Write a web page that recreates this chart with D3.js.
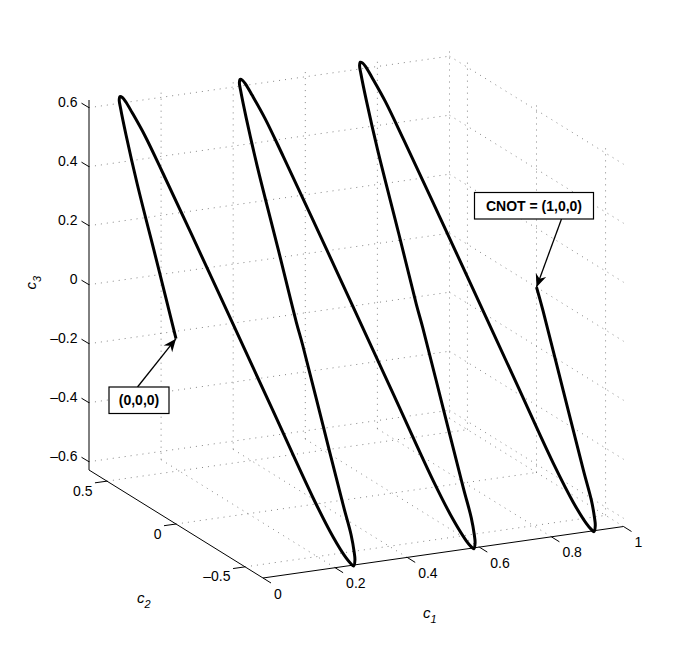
<!DOCTYPE html>
<html>
<head>
<meta charset="utf-8">
<script src="https://cdn.jsdelivr.net/npm/d3@7"></script>
<style>
    body { margin: 0; background: #fff; }
    text { font-family: "Liberation Sans", Arial, sans-serif; fill: #000; }
</style>
</head>
<body>
<svg id="chart" width="688" height="650"></svg>
<script>
const width = 688,
    height = 650

// Trajectory, in (c1, c2, c3)
const c1Values = [
    0, .0214, .0457, .0631, .0744, .0786, .0841, .0892, .0939, .1005, .1123, .1239, .1408,
    .1635, .1869, .2093, .2247, .2389, .2464, .2511, .2602, .2658, .2741, .2818, .3046, .3280,
    .3333, .3547, .3790, .3964, .4077, .4119, .4174, .4225, .4272, .4338, .4456, .4572, .4741,
    .4968, .5202, .5426, .5580, .5722, .5797, .5844, .5935, .5991, .6074, .6151, .6379, .6613,
    .6667, .6881, .7124, .7298, .7411, .7453, .7508, .7559, .7606, .7672, .7790, .7906, .8075,
    .8302, .8536, .8760, .8914, .9056, .9131, .9178, .9269, .9325, .9408, .9485, .9713, .9947, 1
]
const c2Values = [
    0, .1839, .4001, .5265, .5959, .6163, .6247, .6214, .6103, .5805, .5172, .4171, .2547,
    .0244, -.2151, -.4466, -.5512, -.6082, -.625, -.6309, -.6164, -.5961, -.5526, -.4748, -.2704, -.0609,
    0, .1839, .4001, .5265, .5959, .6163, .6247, .6214, .6103, .5805, .5172, .4171, .2547,
    .0244, -.2151, -.4466, -.5512, -.6082, -.625, -.6309, -.6164, -.5961, -.5526, -.4748, -.2704, -.0609,
    0, .1839, .4001, .5265, .5959, .6163, .6247, .6214, .6103, .5805, .5172, .4171, .2547,
    .0244, -.2151, -.4466, -.5512, -.6082, -.625, -.6309, -.6164, -.5961, -.5526, -.4748, -.2704, -.0609, 0
]
const c3Values = [
    0, .1839, .4001, .5265, .5959, .6163, .6247, .6214, .6103, .5805, .5172, .4171, .2547,
    .0244, -.2151, -.4466, -.5512, -.6082, -.625, -.6309, -.6164, -.5961, -.5526, -.4748, -.2704, -.0609,
    0, .1839, .4001, .5265, .5959, .6163, .6247, .6214, .6103, .5805, .5172, .4171, .2547,
    .0244, -.2151, -.4466, -.5512, -.6082, -.625, -.6309, -.6164, -.5961, -.5526, -.4748, -.2704, -.0609,
    0, .1839, .4001, .5265, .5959, .6163, .6247, .6214, .6103, .5805, .5172, .4171, .2547,
    .0244, -.2151, -.4466, -.5512, -.6082, -.625, -.6309, -.6164, -.5961, -.5526, -.4748, -.2704, -.0609, 0
]

const c1Ticks = [0, .2, .4, .6, .8, 1]
const c2Ticks = [.5, 0, -.5]
const c3Ticks = [.6, .4, .2, 0, -.2, -.4, -.6]
const c1Labels = ["0", "0.2", "0.4", "0.6", "0.8", "1"]
const c2Labels = ["0.5", "0", "–0.5"]
const c3Labels = ["0.6", "0.4", "0.2", "0", "–0.2", "–0.4", "–0.6"]

const c1Min = 0, c1Max = 1
const c2Min = -.63, c2Max = .63
const c3Min = -.628, c3Max = .626

// Each axis is a screen vector, the projection just adds them up
const c1X = d3.scaleLinear().domain([c1Min, c1Max]).range([263, 623.5])
const c1Y = d3.scaleLinear().domain([c1Min, c1Max]).range([578, 526.5])
const c2X = d3.scaleLinear().domain([c2Min, c2Max]).range([0, -174])
const c2Y = d3.scaleLinear().domain([c2Min, c2Max]).range([0, -108])
const c3Y = d3.scaleLinear().domain([c3Min, c3Max]).range([0, -370])

const project = (c1, c2, c3) => [c1X(c1) + c2X(c2), c1Y(c1) + c2Y(c2) + c3Y(c3)]

const svg = d3.select("#chart")

const segment = (g, a, b) => {
    const p = project(...a), q = project(...b)
    return g.append("line")
        .attr("x1", p[0]).attr("y1", p[1])
        .attr("x2", q[0]).attr("y2", q[1])
}

// Grid
const grid = svg.append("g")
    .attr("stroke", "#666")
    .attr("stroke-width", 0.8)
    .attr("stroke-dasharray", "1 5")

c3Ticks.forEach(z => {
    segment(grid, [c1Min, c2Max, z], [c1Max, c2Max, z])
    segment(grid, [c1Max, c2Max, z], [c1Max, c2Min, z])
})
c1Ticks.slice(1).forEach(x => {
    segment(grid, [x, c2Max, c3Min], [x, c2Max, c3Max])
    segment(grid, [x, c2Min, c3Min], [x, c2Max, c3Min])
})
c2Ticks.forEach(y => {
    segment(grid, [c1Max, y, c3Min], [c1Max, y, c3Max])
    segment(grid, [c1Min, y, c3Min], [c1Max, y, c3Min])
})

// Axis lines
const axes = svg.append("g")
    .attr("stroke", "#000")
    .attr("stroke-width", 1)

segment(axes, [c1Min, c2Max, c3Min], [c1Min, c2Max, c3Max])
segment(axes, [c1Min, c2Max, c3Min], [c1Min, c2Min, c3Min])
segment(axes, [c1Min, c2Min, c3Min], [c1Max, c2Min, c3Min])

// Tick marks and labels
const labels = svg.append("g").attr("font-size", 14)

const addTick = (p, dx, dy) => {
    axes.append("line")
        .attr("x1", p[0]).attr("y1", p[1])
        .attr("x2", p[0] + dx).attr("y2", p[1] + dy)
}

c3Ticks.forEach((z, i) => {
    const p = project(c1Min, c2Max, z)
    addTick(p, -7.5, -4.5)
    labels.append("text")
        .attr("x", p[0] - 11.5)
        .attr("y", p[1] - 6)
        .attr("dy", ".36em")
        .attr("text-anchor", "end")
        .text(c3Labels[i])
})
c2Ticks.forEach((y, i) => {
    const p = project(c1Min, y, c3Min)
    addTick(p, -12, 1.7)
    labels.append("text")
        .attr("x", p[0] - 14.5)
        .attr("y", p[1] + 9.5)
        .attr("dy", ".36em")
        .attr("text-anchor", "end")
        .text(c2Labels[i])
})
c1Ticks.forEach((x, i) => {
    const p = project(x, c2Min, c3Min)
    addTick(p, 8, 5)
    labels.append("text")
        .attr("x", p[0] + 11)
        .attr("y", p[1] + 15.5)
        .attr("dy", ".36em")
        .text(c1Labels[i])
})

// Axis titles
const axisTitle = (x, y, angle, sub) => {
    const t = svg.append("text")
        .attr("transform", `translate(${x},${y}) rotate(${angle})`)
        .attr("font-style", "italic")
        .attr("font-size", 15)
    t.append("tspan").text("c")
    t.append("tspan").attr("dy", 5).attr("font-size", 11).text(sub)
}
axisTitle(423, 618, 0, "1")
axisTitle(137, 603, 0, "2")
axisTitle(36, 289.5, -90, "3")

// The trajectory
const line = d3.line().curve(d3.curveCatmullRom.alpha(0.5))

svg.append("path")
    .attr("d", line(c1Values.map((d, i) => project(d, c2Values[i], c3Values[i]))))
    .attr("fill", "none")
    .attr("stroke", "#000")
    .attr("stroke-width", 3)
    .attr("stroke-linejoin", "round")

// Annotations
svg.append("defs").append("marker")
    .attr("id", "arrowhead")
    .attr("markerUnits", "userSpaceOnUse")
    .attr("viewBox", "-14 -7 15 14")
    .attr("refX", 0)
    .attr("refY", 0)
    .attr("markerWidth", 15)
    .attr("markerHeight", 14)
    .attr("orient", "auto")
    .append("path")
    .attr("d", "M0,0 L-13,-5.5 L-9,0 L-13,5.5 Z")
    .attr("fill", "#000")

const annotate = (label, box, from, tip) => {
    svg.append("path")
        .attr("d", `M${from[0]},${from[1]} L${tip[0]},${tip[1]}`)
        .attr("stroke", "#000")
        .attr("stroke-width", 1.3)
        .attr("fill", "none")
        .attr("marker-end", "url(#arrowhead)")
    svg.append("rect")
        .attr("x", box[0]).attr("y", box[1])
        .attr("width", box[2]).attr("height", box[3])
        .attr("fill", "#fff")
        .attr("stroke", "#000")
        .attr("stroke-width", 1.2)
    svg.append("text")
        .attr("x", box[0] + box[2] / 2)
        .attr("y", box[1] + box[3] / 2)
        .attr("dy", ".36em")
        .attr("text-anchor", "middle")
        .attr("font-size", 14)
        .attr("font-weight", "bold")
        .text(label)
}
annotate("(0,0,0)", [109, 387, 60, 26.5], [137.5, 387], project(0, 0, 0))
annotate("CNOT = (1,0,0)", [474.5, 192.5, 119, 26.5], [561.5, 219], project(1, 0, 0))
</script>
</body>
</html>
